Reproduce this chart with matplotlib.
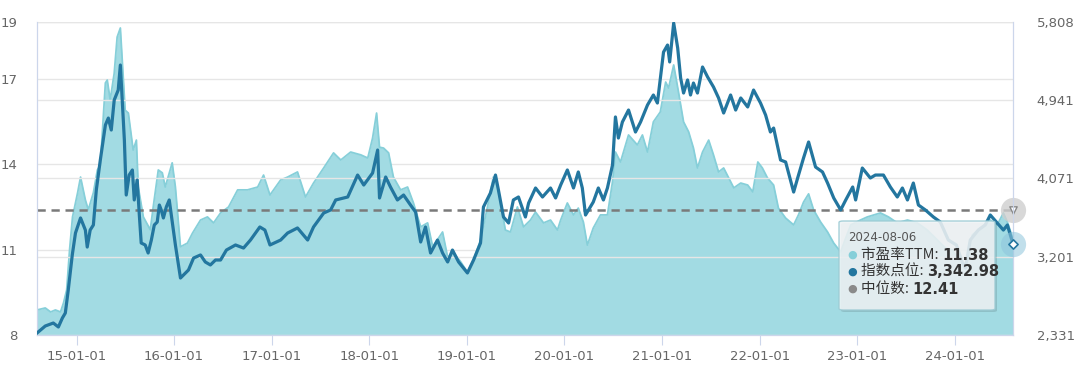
import numpy as np
import pandas as pd
import matplotlib
matplotlib.use("Agg")
import matplotlib.pyplot as plt
import matplotlib.dates as mdates
from matplotlib.patches import FancyBboxPatch

# PE TTM (left axis)
pe_dates = [
    "2014-08-06", "2014-09-06", "2014-09-26", "2014-10-14", "2014-11-02", "2014-11-13",
    "2014-11-25", "2014-12-06", "2014-12-17", "2015-01-05", "2015-01-16", "2015-02-03",
    "2015-02-14", "2015-03-05", "2015-03-20", "2015-03-31", "2015-04-19", "2015-04-26",
    "2015-05-07", "2015-05-22", "2015-06-02", "2015-06-14", "2015-06-21", "2015-07-02",
    "2015-07-14", "2015-08-01", "2015-08-13", "2015-08-20", "2015-09-08", "2015-10-04",
    "2015-10-15", "2015-11-03", "2015-11-18", "2015-11-29", "2015-12-25", "2016-01-06",
    "2016-01-25", "2016-02-20", "2016-03-10", "2016-04-09", "2016-05-05", "2016-05-28",
    "2016-06-23", "2016-07-23", "2016-08-26", "2016-10-02", "2016-11-09", "2016-12-01",
    "2016-12-25", "2017-02-03", "2017-03-01", "2017-04-07", "2017-05-07", "2017-06-06",
    "2017-07-14", "2017-08-20", "2017-09-16", "2017-10-23", "2017-11-30", "2017-12-26",
    "2018-01-13", "2018-01-28", "2018-02-08", "2018-02-23", "2018-03-14", "2018-04-01",
    "2018-04-28", "2018-05-24", "2018-06-15", "2018-07-12", "2018-08-07", "2018-08-26",
    "2018-10-02", "2018-10-21", "2018-11-13", "2018-12-09", "2019-01-03", "2019-01-26",
    "2019-02-21", "2019-03-19", "2019-04-10", "2019-04-29", "2019-05-25", "2019-06-13",
    "2019-07-09", "2019-08-01", "2019-08-27", "2019-09-15", "2019-10-15", "2019-11-10",
    "2019-12-06", "2019-12-18", "2020-01-12", "2020-02-04", "2020-02-22", "2020-03-12",
    "2020-03-27", "2020-04-18", "2020-05-15", "2020-06-10", "2020-06-29", "2020-07-10",
    "2020-07-29", "2020-08-28", "2020-09-30", "2020-10-19", "2020-11-07", "2020-11-29",
    "2020-12-25", "2021-01-14", "2021-01-25", "2021-02-13", "2021-03-03", "2021-03-22",
    "2021-04-10", "2021-04-28", "2021-05-13", "2021-06-01", "2021-06-24", "2021-07-12",
    "2021-07-31", "2021-08-19", "2021-09-07", "2021-09-26", "2021-10-22", "2021-11-17",
    "2021-12-06", "2021-12-25", "2022-01-11", "2022-01-30", "2022-02-22", "2022-03-12",
    "2022-04-08", "2022-05-08", "2022-05-26", "2022-06-14", "2022-07-03", "2022-07-22",
    "2022-08-17", "2022-09-12", "2022-10-05", "2022-10-31", "2022-11-19", "2022-12-08",
    "2023-01-13", "2023-02-08", "2023-03-29", "2023-04-28", "2023-05-31", "2023-07-08",
    "2023-08-14", "2023-09-20", "2023-10-20", "2023-11-27", "2023-12-23", "2024-01-22",
    "2024-02-10", "2024-03-07", "2024-04-06", "2024-05-13", "2024-06-08", "2024-07-01",
    "2024-07-16", "2024-08-06",
]
pe_values = [
    8.88, 8.95, 8.81, 8.88, 8.81, 9.12,
    9.58, 11.0, 12.15, 13.0, 13.55, 12.75,
    12.4, 13.0, 13.8, 13.97, 16.86, 16.96,
    16.26, 17.2, 18.47, 18.79, 17.67, 15.9,
    15.8, 14.5, 14.85, 13.2, 12.15, 11.7,
    12.5, 13.8, 13.7, 13.2, 14.05, 13.2,
    11.1, 11.23, 11.58, 12.04, 12.15, 11.94,
    12.29, 12.5, 13.1, 13.1, 13.2, 13.62,
    12.92, 13.45, 13.55, 13.73, 12.85, 13.34,
    13.87, 14.4, 14.15, 14.43, 14.33, 14.22,
    14.92, 15.8, 14.6, 14.57, 14.4, 13.55,
    13.1, 13.2, 12.64, 11.8, 11.94, 11.1,
    11.62, 10.74, 10.88, 10.57, 10.21, 10.64,
    11.34, 12.5, 13.55, 13.1, 11.69, 11.62,
    12.5, 11.8, 12.04, 12.32, 11.94, 12.04,
    11.69, 12.04, 12.64, 12.22, 12.46, 11.97,
    11.16, 11.76, 12.22, 12.22, 13.38, 14.43,
    14.08, 15.03, 14.68, 15.03, 14.43, 15.49,
    15.84, 16.89, 16.68, 17.49, 16.54, 15.49,
    15.14, 14.57, 13.87, 14.43, 14.85, 14.33,
    13.73, 13.87, 13.52, 13.17, 13.34, 13.27,
    13.03, 14.08, 13.87, 13.52, 13.27, 12.46,
    12.11, 11.87, 12.22, 12.67, 12.96, 12.39,
    11.97, 11.62, 11.23, 10.92, 11.41, 11.87,
    12.04, 12.15, 12.29, 12.15, 11.94, 12.04,
    11.94, 11.69, 11.41, 11.06, 10.99, 10.57,
    10.46, 11.52, 11.76, 12.04, 11.87, 12.29,
    11.97, 11.38,
]

# index level (right axis)
idx_dates = [
    "2014-08-06", "2014-09-06", "2014-10-06", "2014-10-25", "2014-11-09", "2014-11-20",
    "2014-12-01", "2014-12-16", "2014-12-28", "2015-01-16", "2015-02-03", "2015-02-10",
    "2015-02-21", "2015-03-05", "2015-03-16", "2015-03-31", "2015-04-19", "2015-04-30",
    "2015-05-11", "2015-05-22", "2015-06-06", "2015-06-14", "2015-06-21", "2015-06-29",
    "2015-07-06", "2015-07-17", "2015-07-29", "2015-08-05", "2015-08-16", "2015-08-24",
    "2015-08-31", "2015-09-15", "2015-09-26", "2015-10-08", "2015-10-19", "2015-10-30",
    "2015-11-07", "2015-11-14", "2015-11-22", "2015-12-03", "2015-12-14", "2016-01-06",
    "2016-01-25", "2016-02-24", "2016-03-14", "2016-04-09", "2016-04-27", "2016-05-16",
    "2016-06-04", "2016-06-23", "2016-07-15", "2016-08-18", "2016-09-17", "2016-10-13",
    "2016-11-17", "2016-12-06", "2016-12-25", "2017-02-03", "2017-03-01", "2017-04-07",
    "2017-05-15", "2017-06-06", "2017-07-14", "2017-08-09", "2017-08-28", "2017-10-12",
    "2017-11-18", "2017-12-11", "2018-01-13", "2018-02-01", "2018-02-08", "2018-03-03",
    "2018-03-21", "2018-04-16", "2018-05-09", "2018-06-04", "2018-06-23", "2018-07-12",
    "2018-07-30", "2018-08-18", "2018-09-13", "2018-10-02", "2018-10-21", "2018-11-08",
    "2018-12-01", "2019-01-03", "2019-01-26", "2019-02-21", "2019-03-04", "2019-03-30",
    "2019-04-18", "2019-04-29", "2019-05-18", "2019-06-06", "2019-06-24", "2019-07-13",
    "2019-08-08", "2019-08-20", "2019-09-15", "2019-10-11", "2019-11-10", "2019-11-29",
    "2019-12-18", "2020-01-12", "2020-02-04", "2020-02-22", "2020-03-08", "2020-03-20",
    "2020-04-18", "2020-05-07", "2020-05-26", "2020-06-10", "2020-06-29", "2020-07-10",
    "2020-07-21", "2020-08-05", "2020-08-28", "2020-09-23", "2020-10-12", "2020-11-07",
    "2020-11-29", "2020-12-14", "2021-01-06", "2021-01-21", "2021-01-29", "2021-02-13",
    "2021-02-28", "2021-03-11", "2021-03-22", "2021-04-06", "2021-04-17", "2021-04-28",
    "2021-05-13", "2021-06-01", "2021-06-20", "2021-07-12", "2021-07-31", "2021-08-19",
    "2021-09-14", "2021-10-03", "2021-10-22", "2021-11-17", "2021-12-09", "2022-01-04",
    "2022-01-23", "2022-02-10", "2022-02-22", "2022-03-20", "2022-04-08", "2022-05-08",
    "2022-05-23", "2022-06-14", "2022-07-03", "2022-07-29", "2022-08-24", "2022-09-12",
    "2022-10-05", "2022-10-31", "2022-11-19", "2022-12-15", "2022-12-26", "2023-01-20",
    "2023-02-19", "2023-03-10", "2023-04-09", "2023-05-05", "2023-05-31", "2023-06-19",
    "2023-07-08", "2023-07-30", "2023-08-18", "2023-09-13", "2023-10-13", "2023-11-08",
    "2023-12-08", "2024-01-07", "2024-01-29", "2024-02-10", "2024-02-28", "2024-03-29",
    "2024-04-24", "2024-05-13", "2024-06-08", "2024-07-01", "2024-07-16", "2024-08-06",
]
idx_values = [
    2353, 2431, 2464, 2420, 2520, 2575,
    2831, 3220, 3464, 3631, 3497, 3308,
    3497, 3553, 3942, 4275, 4664, 4741,
    4608, 4941, 5052, 5330, 4941, 4497,
    3886, 4108, 4164, 3831, 4053, 3664,
    3353, 3331, 3242, 3386, 3553, 3586,
    3775, 3720, 3631, 3753, 3831, 3331,
    2964, 3053, 3186, 3220, 3142, 3109,
    3164, 3164, 3275, 3331, 3297, 3386,
    3531, 3497, 3331, 3386, 3464, 3520,
    3386, 3531, 3686, 3720, 3831, 3864,
    4108, 3997, 4130, 4386, 3853, 4086,
    3975, 3831, 3886, 3775, 3697, 3364,
    3531, 3242, 3386, 3242, 3142, 3275,
    3142, 3020, 3164, 3353, 3753, 3908,
    4108, 3942, 3642, 3575, 3831, 3864,
    3642, 3797, 3964, 3864, 3964, 3853,
    3997, 4164, 3964, 4142, 3964, 3664,
    3808, 3964, 3831, 3964, 4219, 4753,
    4519, 4697, 4830, 4586, 4697, 4886,
    4997, 4908, 5474, 5552, 5364, 5797,
    5519, 5186, 5019, 5164, 4997, 5130,
    5019, 5308, 5197, 5086, 4964, 4797,
    4997, 4830, 4964, 4864, 5052, 4908,
    4775, 4586, 4630, 4275, 4253, 3919,
    4075, 4297, 4475, 4197, 4142, 4019,
    3853, 3720, 3831, 3975, 3831, 4186,
    4075, 4108, 4108, 3975, 3864, 3964,
    3831, 4019, 3775, 3720, 3642, 3586,
    3386, 3331, 3142, 3075, 3386, 3497,
    3553, 3664, 3575, 3497, 3553, 3342.98,
]

median_pe = 12.41
left_ticks = [8, 11, 14, 17, 19]
right_ticks = [2331, 3201, 4071, 4941, 5808]
year_ticks = [f"{y}-01-01" for y in range(2015, 2025)]
tip_date = "2024-08-06"
tip_labels = ["市盈率TTM: ", "指数点位: ", "中位数: "]
tip_values = ["11.38", "3,342.98", "12.41"]

FILL = "#a2dbe3"
EDGE = "#86cfd9"
BLUE = "#23769f"
GRID = "#e6e6e6"
AXIS = "#ccd6eb"
TXT = "#666666"
CJK = ["Noto Sans CJK SC", "DejaVu Sans"]

pe_x = pd.to_datetime(pe_dates)
idx_x = pd.to_datetime(idx_dates)

fig = plt.figure(figsize=(10.8, 3.66), dpi=100)
ax = fig.add_axes([37 / 1080, 31 / 366, 976 / 1080, 313 / 366])
ax2 = ax.twinx()

ax.set_ylim(8, 19)
ax2.set_ylim(2331, 5808)
ax.set_xlim(pd.Timestamp("2014-08-06"), pd.Timestamp("2024-08-06"))

# grid lines for both axes
for v in left_ticks:
    ax.axhline(v, color=GRID, lw=1, zorder=0)
for v in right_ticks:
    ax2.axhline(v, color=GRID, lw=1, zorder=0)

ax.fill_between(pe_x, 8, pe_values, color=FILL, lw=0, zorder=1)
ax.plot(pe_x, pe_values, color=EDGE, lw=1.3, zorder=2)
ax.axhline(median_pe, color="#7a7a7a", lw=1.8, ls=(0, (3.3, 2.3)), zorder=3)

ax2.plot(idx_x, idx_values, color=BLUE, lw=2.3, solid_joinstyle="round", zorder=4)

# ticks and labels
ax.set_yticks(left_ticks)
ax.set_yticklabels([str(v) for v in left_ticks])
ax2.set_yticks(right_ticks)
ax2.set_yticklabels([f"{v:,}" for v in right_ticks])
ax.set_xticks(pd.to_datetime(year_ticks))
ax.xaxis.set_major_formatter(mdates.DateFormatter("%y-%m-%d"))
ax.tick_params(axis="x", length=7, color=AXIS, labelcolor=TXT, labelsize=9.5, pad=4)
ax.tick_params(axis="y", length=0, labelcolor=TXT, labelsize=9.5, pad=14)
ax2.tick_params(axis="y", length=0, labelcolor=TXT, labelsize=9.5, pad=17)

for a in (ax, ax2):
    a.spines["top"].set_visible(False)
    a.spines["left"].set_color(AXIS)
    a.spines["right"].set_color(AXIS)
    a.spines["bottom"].set_color(AXIS)
ax2.set_zorder(ax.get_zorder() + 1)
ax2.patch.set_visible(False)

# hover markers at the last point
last_x = pe_x[-1]
ax.scatter([last_x], [median_pe], s=330, color="#cfcfcf", alpha=0.8, zorder=6, clip_on=False, lw=0)
ax.scatter([last_x], [median_pe], s=28, marker="v", facecolor="white", edgecolor="#888888",
           lw=1, zorder=7, clip_on=False)
ax2.scatter([last_x], [idx_values[-1]], s=330, color="#8ec5dc", alpha=0.55, zorder=6, clip_on=False, lw=0)
ax2.scatter([last_x], [idx_values[-1]], s=22, marker="D", facecolor="white", edgecolor=BLUE,
            lw=1.2, zorder=7, clip_on=False)

# tooltip
bx, by, bw, bh = 839 / 1080, 56 / 366, 156 / 1080, 89 / 366
shadow = FancyBboxPatch((bx + 2 / 1080, by - 2 / 366), bw, bh, boxstyle="round,pad=0,rounding_size=0.004",
                        transform=fig.transFigure, facecolor="#000000", alpha=0.12, lw=0, zorder=8)
box = FancyBboxPatch((bx, by), bw, bh, boxstyle="round,pad=0,rounding_size=0.004",
                     transform=fig.transFigure, facecolor="#eef3f5", edgecolor="#9ccbd4",
                     alpha=0.88, lw=1, zorder=9)
fig.patches.extend([shadow, box])

fig.text(848 / 1080, 1 - 238 / 366, tip_date, fontsize=8.5, color="#555555", va="center", zorder=10)
dot_colors = [EDGE, BLUE, "#8a8a8a"]
row_y = [255, 272, 289]
for lab, val, c, yy in zip(tip_labels, tip_values, dot_colors, row_y):
    fy = 1 - yy / 366
    fig.text(852 / 1080, fy, "●", fontsize=8, color=c, va="center", ha="center", zorder=10)
    t = fig.text(861 / 1080, fy, lab, fontsize=10.5, color="#333333", va="center",
                 family=CJK, zorder=10)
    fig.canvas.draw()
    ext = t.get_window_extent()
    fig.text(ext.x1 / 1080, fy, val, fontsize=10.5, color="#333333", va="center",
             fontweight="bold", zorder=10)

fig.savefig("out.png", dpi=100)
